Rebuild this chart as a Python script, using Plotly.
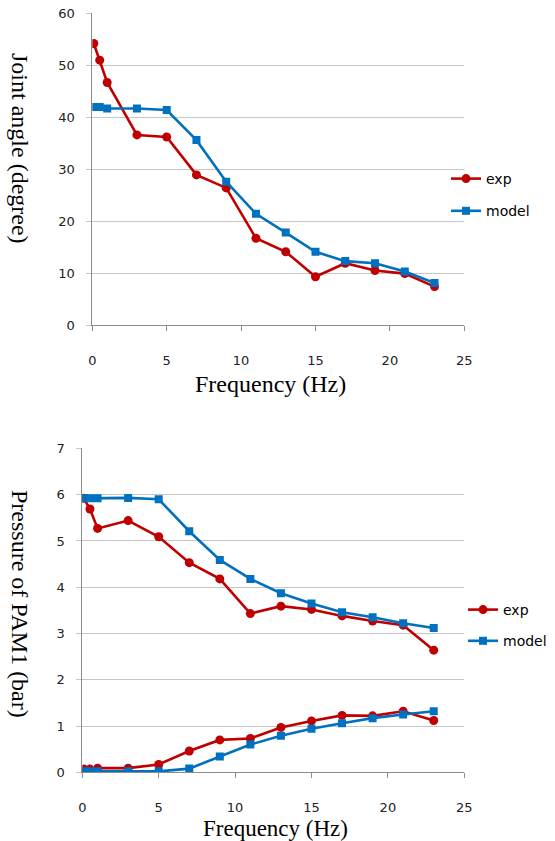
import plotly.graph_objects as go

# ---- data ----
freq = [0.1, 0.5, 1, 3, 5, 7, 9, 11, 13, 15, 17, 19, 21, 23]

angle_exp = [54.2, 51.0, 46.7, 36.6, 36.2, 28.9, 26.4, 16.7, 14.1, 9.3, 11.9, 10.5, 9.9, 7.4]
angle_model = [42.0, 42.0, 41.7, 41.7, 41.4, 35.6, 27.6, 21.4, 17.8, 14.1, 12.3, 11.9, 10.3, 8.1]

p_hi_exp = [5.92, 5.69, 5.27, 5.44, 5.09, 4.53, 4.18, 3.43, 3.59, 3.52, 3.38, 3.27, 3.18, 2.64]
p_hi_model = [5.92, 5.92, 5.92, 5.93, 5.90, 5.21, 4.59, 4.18, 3.87, 3.65, 3.46, 3.35, 3.22, 3.12]
p_lo_exp = [0.07, 0.07, 0.09, 0.09, 0.17, 0.46, 0.70, 0.73, 0.97, 1.11, 1.23, 1.22, 1.32, 1.12]
p_lo_model = [0.02, 0.02, 0.02, 0.02, 0.02, 0.08, 0.34, 0.60, 0.79, 0.94, 1.06, 1.17, 1.25, 1.32]

series_names = ["exp", "model"]
x_ticks = [0, 5, 10, 15, 20, 25]
angle_ticks = [0, 10, 20, 30, 40, 50, 60]
pressure_ticks = [0, 1, 2, 3, 4, 5, 6, 7]

RED = "#C00000"
BLUE = "#0070C0"
GRID = "#C6C6C6"
AXIS = "#8C8C8C"

# body margin is removed below, so the figure fills the page from its top-left corner
W, H = 555, 841


def px(x):
    return x / W


def py(y):
    return 1 - y / H


fig = go.Figure()

line_w = 2.6
exp_marker = dict(symbol="circle", size=9, color=RED)
mod_marker = dict(symbol="square", size=8, color=BLUE)

# top chart
fig.add_trace(go.Scatter(x=freq, y=angle_exp, name=series_names[0], mode="lines+markers",
                         line=dict(color=RED, width=line_w), marker=exp_marker,
                         xaxis="x", yaxis="y", legend="legend", legendgroup="e1"))
fig.add_trace(go.Scatter(x=freq, y=angle_model, name=series_names[1], mode="lines+markers",
                         line=dict(color=BLUE, width=line_w), marker=mod_marker,
                         xaxis="x", yaxis="y", legend="legend", legendgroup="m1"))

# bottom chart
fig.add_trace(go.Scatter(x=freq, y=p_hi_exp, name=series_names[0], mode="lines+markers",
                         line=dict(color=RED, width=line_w), marker=exp_marker,
                         xaxis="x2", yaxis="y2", legend="legend2", legendgroup="e2"))
fig.add_trace(go.Scatter(x=freq, y=p_hi_model, name=series_names[1], mode="lines+markers",
                         line=dict(color=BLUE, width=line_w), marker=mod_marker,
                         xaxis="x2", yaxis="y2", legend="legend2", legendgroup="m2"))
fig.add_trace(go.Scatter(x=freq, y=p_lo_exp, name=series_names[0], mode="lines+markers",
                         line=dict(color=RED, width=line_w), marker=exp_marker,
                         xaxis="x2", yaxis="y2", legend="legend2", legendgroup="e2",
                         showlegend=False))
fig.add_trace(go.Scatter(x=freq, y=p_lo_model, name=series_names[1], mode="lines+markers",
                         line=dict(color=BLUE, width=line_w), marker=mod_marker,
                         xaxis="x2", yaxis="y2", legend="legend2", legendgroup="m2",
                         showlegend=False))

tick_font = dict(family="DejaVu Sans", size=13, color="#222222")
title_font = dict(family="Liberation Serif", size=24, color="#000000")

xcommon = dict(range=[0, 25.001], tickvals=x_ticks, showgrid=False, zeroline=False,
               showline=True, linecolor=AXIS, linewidth=1,
               ticks="outside", ticklen=5, tickcolor=AXIS, tickfont=tick_font,
               ticklabelstandoff=18, fixedrange=True, automargin=False,
               ticklabeloverflow="allow")
ycommon = dict(showgrid=True, gridcolor=GRID, gridwidth=1, zeroline=False,
               showline=True, linecolor=AXIS, linewidth=1,
               ticks="outside", ticklen=5, tickcolor=GRID, tickfont=tick_font,
               ticklabelstandoff=9, fixedrange=True, automargin=False,
               ticklabeloverflow="allow")

fig.update_layout(
    width=W, height=H,
    margin=dict(l=0, r=0, t=0, b=0, autoexpand=False),
    paper_bgcolor="white", plot_bgcolor="white",
    xaxis=dict(domain=[px(92.3), px(464.3)], anchor="y", **xcommon),
    yaxis=dict(domain=[py(325), py(13.3)], anchor="x", range=[0, 60.02],
               tickvals=angle_ticks, **ycommon),
    xaxis2=dict(domain=[px(82.3), px(464.3)], anchor="y2", **xcommon),
    yaxis2=dict(domain=[py(772.3), py(448.3)], anchor="x2", range=[0, 7.002],
                tickvals=pressure_ticks, **ycommon),
    legend=dict(x=px(446), y=py(163), xanchor="left", yanchor="top",
                font=dict(family="DejaVu Sans", size=14, color="#000"),
                bgcolor="rgba(0,0,0,0)", tracegroupgap=11, itemwidth=30),
    legend2=dict(x=px(463), y=py(594), xanchor="left", yanchor="top",
                 font=dict(family="DejaVu Sans", size=14, color="#000"),
                 bgcolor="rgba(0,0,0,0)", tracegroupgap=10, itemwidth=30),
    annotations=[
        dict(text="Frequency (Hz)", x=px(270), y=py(384), xref="paper", yref="paper",
             showarrow=False, font=title_font, xanchor="center", yanchor="middle"),
        dict(text="Joint angle (degree)", x=px(20), y=py(148), xref="paper", yref="paper",
             showarrow=False, font=title_font, textangle=90, xanchor="center", yanchor="middle"),
        dict(text="Frequency (Hz)", x=px(275), y=py(828), xref="paper", yref="paper",
             showarrow=False, font=dict(family="Liberation Serif", size=23, color="#000000"),
             xanchor="center", yanchor="middle"),
        dict(text="Pressure of PAM1 (bar)", x=px(20), y=py(604), xref="paper", yref="paper",
             showarrow=False, font=title_font, textangle=90, xanchor="center", yanchor="middle"),
    ],
)

fig.write_html("out.html",
               config={"displayModeBar": False},
               post_script="document.body.style.margin='0';document.body.style.overflow='hidden';")
